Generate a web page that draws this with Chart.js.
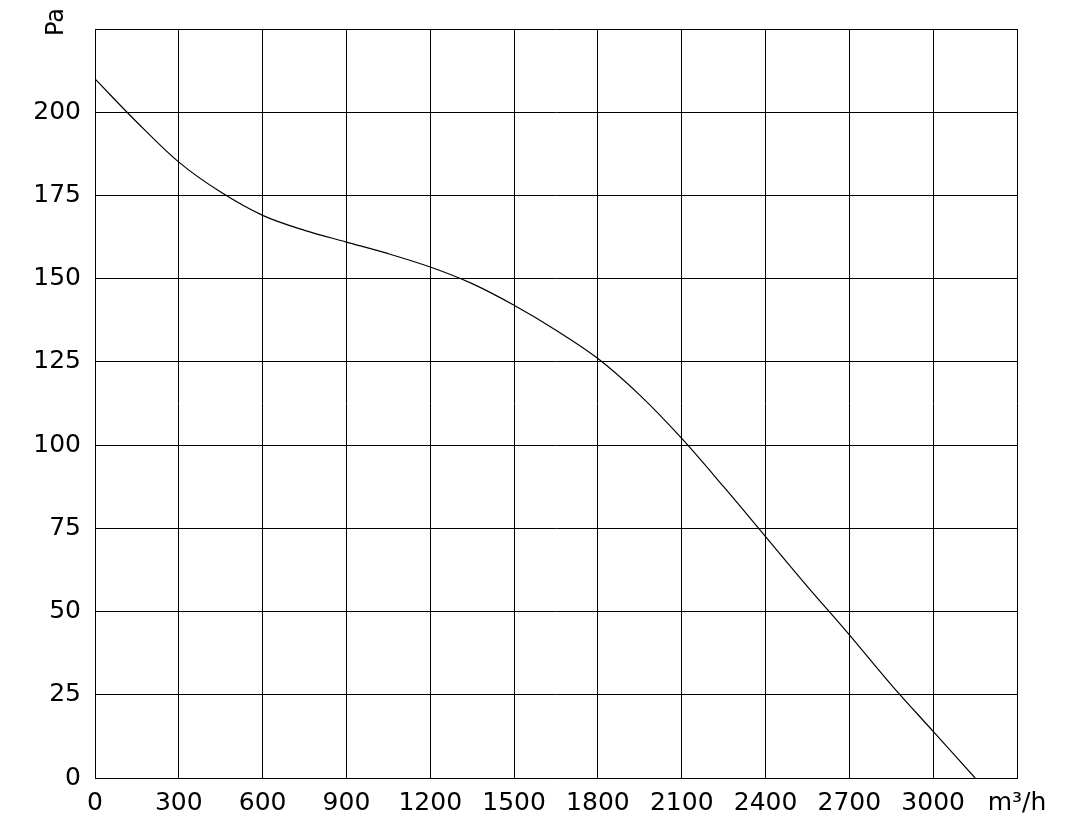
<!DOCTYPE html>
<html><head><meta charset="utf-8">
<script src="https://cdn.jsdelivr.net/npm/chart.js@4"></script>
<style>html,body{margin:0;padding:0;background:#fff}#w{width:1070px;height:840px}</style>
</head><body><div id="w"><canvas id="c"></canvas></div>
<script>
const flow = [0,150,300,450,600,750,900,1050,1200,1350,1500,1650,1800,1950,2100,2250,2400,2550,2700,2850,3000,3150];
const pressure = [210,197,185,176,169,164.5,161,157.5,153.5,148.5,142,134.5,126,115,102,87.5,72.5,57.5,43,28,14,0];
const xTicks = [0,300,600,900,1200,1500,1800,2100,2400,2700,3000,3300];
const yTicks = [0,25,50,75,100,125,150,175,200,225];
const font = {family:'"DejaVu Sans", Verdana, sans-serif', size:25};
const paLabel = {id:'pa',afterDraw(ch){const c=ch.ctx;c.save();c.font='24px "DejaVu Sans", Verdana, sans-serif';c.fillStyle='#000';c.translate(57,22);c.rotate(-Math.PI/2);c.textAlign='center';c.textBaseline='middle';c.fillText('Pa',0,0);c.restore();}};
new Chart(document.getElementById('c'),{
type:'line',
data:{datasets:[{data:flow.map((x,i)=>({x,y:pressure[i]})),borderColor:'#000',borderWidth:1.2,pointRadius:0,cubicInterpolationMode:'monotone',fill:false}]},
options:{responsive:true,maintainAspectRatio:false,animation:false,
layout:{padding:{top:18,right:53,left:0,bottom:0}},
plugins:{legend:{display:false},tooltip:{enabled:false}},
scales:{
x:{type:'linear',min:0,max:3300,afterBuildTicks(a){a.ticks=xTicks.map(v=>({value:v}));},afterFit(a){a.height=62;},
grid:{color:'#000',lineWidth:1,drawTicks:false},border:{color:'#000'},
ticks:{color:'#000',font,padding:10,maxRotation:0,autoSkip:false,callback:v=>v===3300?'m³/h':String(v)}},
y:{min:0,max:225,afterBuildTicks(a){a.ticks=yTicks.map(v=>({value:v}));},afterFit(a){a.width=95;},
grid:{color:'#000',lineWidth:1,drawTicks:false},border:{color:'#000'},
ticks:{color:'#000',font,padding:14,autoSkip:false,callback:v=>v===225?'':String(v)}}
}},
plugins:[paLabel]
});
</script></body></html>
